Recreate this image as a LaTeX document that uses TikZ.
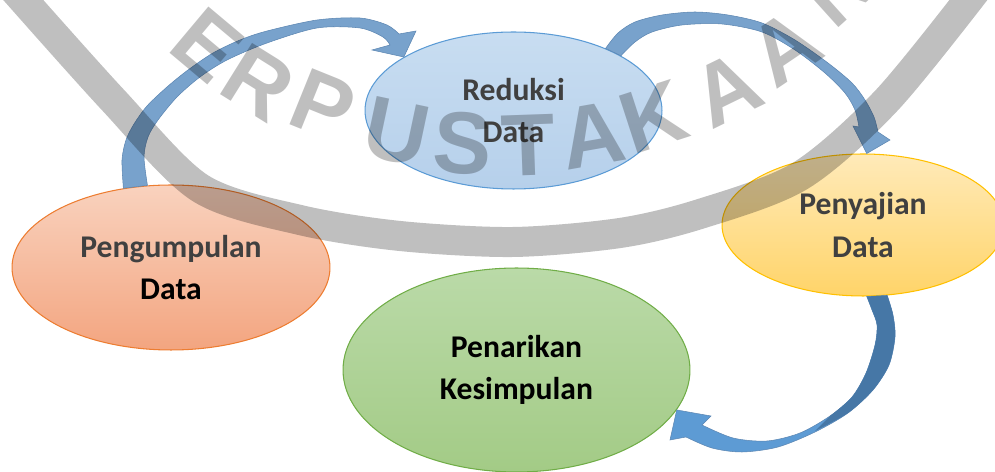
\documentclass[tikz,border=0pt]{standalone}
\usepackage{fontspec}
\setmainfont{Carlito}
\newfontfamily\stampfont{Liberation Sans}
\usetikzlibrary{shapes.geometric}

\definecolor{txtgray}{RGB}{64,64,64}
\definecolor{pengline}{RGB}{237,125,49}
\definecolor{pengtop}{RGB}{249,210,190}
\definecolor{pengbot}{RGB}{243,165,128}
\definecolor{redline}{RGB}{91,155,213}
\definecolor{redtop}{RGB}{200,221,241}
\definecolor{redbot}{RGB}{182,208,235}
\definecolor{penline}{RGB}{255,192,0}
\definecolor{pentop}{RGB}{255,234,185}
\definecolor{penbot}{RGB}{255,212,105}
\definecolor{tarikline}{RGB}{112,173,71}
\definecolor{tariktop}{RGB}{186,218,168}
\definecolor{tarikbot}{RGB}{163,203,134}
\definecolor{arrowmid}{RGB}{120,162,204}
\definecolor{arrowedge}{RGB}{92,134,178}
\definecolor{arrowlight}{RGB}{93,155,212}
\definecolor{arrowdark}{RGB}{70,119,166}

\begin{document}
\begin{tikzpicture}[x=0.02cm, y=-0.02cm,
    box/.style={ellipse, line width=0.6pt, align=center,
      font=\fontsize{18}{24}\selectfont\bfseries},
    arrowbody/.style={fill=arrowmid, draw=arrowedge, line width=0.3pt},
    stamp/.style={text=black, text opacity=0.25,
      font=\stampfont\fontsize{50}{50}\selectfont\bfseries}]
  \useasboundingbox (0,0) rectangle (995,472);
  \clip (0,0) rectangle (995,472);

  % 楕円をかく
  \node[box, draw=pengline, top color=pengtop, bottom color=pengbot,
    minimum width=6.36cm, minimum height=3.3cm] (peng) at (171,267.5)
    {\textcolor{txtgray}{Pengumpulan}\\Data};
  \node[box, draw=redline, top color=redtop, bottom color=redbot,
    text=txtgray, minimum width=5.94cm, minimum height=3.14cm] (red) at (513.5,110.5)
    {Reduksi\\Data};
  \node[box, draw=penline, top color=pentop, bottom color=penbot,
    text=txtgray, minimum width=5.64cm, minimum height=2.84cm] (pen) at (863,225)
    {Penyajian\\Data};
  \node[box, draw=tarikline, top color=tariktop, bottom color=tarikbot,
    minimum width=6.94cm, minimum height=4.08cm] (tarik) at (516.5,370)
    {Penarikan\\Kesimpulan};

  % 矢印をかく
  \path[arrowbody] plot[smooth] coordinates {(peng.121) (122,160) (126,140) (134,124)
      (147,106) (167,87) (188,70) (213,53) (240,40) (267,31) (317,20) (360,18)
      (387,25) (399,34)}
    -- (416,31) -- (red.154) -- (372,50)
    -- plot[smooth] coordinates {(390,45) (383,37) (360,28) (317,28) (267,43)
      (227,60) (200,77) (177,97) (158,120) (148,137) (144,157) (peng.106)}
    -- cycle;

  \path[arrowbody] plot[smooth] coordinates {(red.34) (618,33) (635,22) (662,15)
      (695,12) (728,15) (762,23) (795,40) (828,63) (852,83) (865,100) (874,117)
      (878,132)}
    -- (890,140) -- (pen.87) -- (853,126)
    -- plot[smooth] coordinates {(859,127) (855,110) (845,93) (825,73) (795,50)
      (762,32) (722,24) (682,25) (652,32) (635,42) (red.27)}
    -- cycle;

  \path[arrowbody, fill=arrowlight] plot[smooth] coordinates {(pen.289) (893,315)
      (895,337) (889,365) (873,390) (848,413) (815,432) (778,447) (742,452)
      (712,448) (686,437)}
    -- (670,440) -- (tarik.346) -- (711,416)
    -- plot[smooth] coordinates {(702,425) (733,438) (767,441) (800,433) (830,416)
      (852,397) (866,373) (875,345) (877,325) (872,310) (pen.273)}
    -- cycle;
  \fill[arrowdark] plot[smooth] coordinates {(pen.289) (893,315) (895,337) (889,365)
      (873,390) (848,413) (815,431)}
    -- plot[smooth] coordinates {(830,416) (852,397) (866,373) (875,345) (877,325)
      (872,310) (pen.273)}
    -- cycle;

  % 透かし
  \draw[black, draw opacity=0.25, line width=0.6cm] plot[smooth] coordinates {(10,-15)
    (113,100) (200,188) (300,220) (400,236) (513,242) (620,233) (700,214) (800,176)
    (887,100) (980,-15)};
  \foreach \c/\x/\y/\r [count=\i] in {P/155/-18/-45, E/207/45/-40, R/258/83/-32,
      P/323/105/-22, U/397/132/-12, S/463/143/-4, T/528/145/2, A/592/135/10,
      K/653/117/18, A/727/89/26, A/785/48/34, N/838/-12/42}
    \node[stamp, rotate=\r] (wm\i) at (\x,\y) {\c};
\end{tikzpicture}
\end{document}
